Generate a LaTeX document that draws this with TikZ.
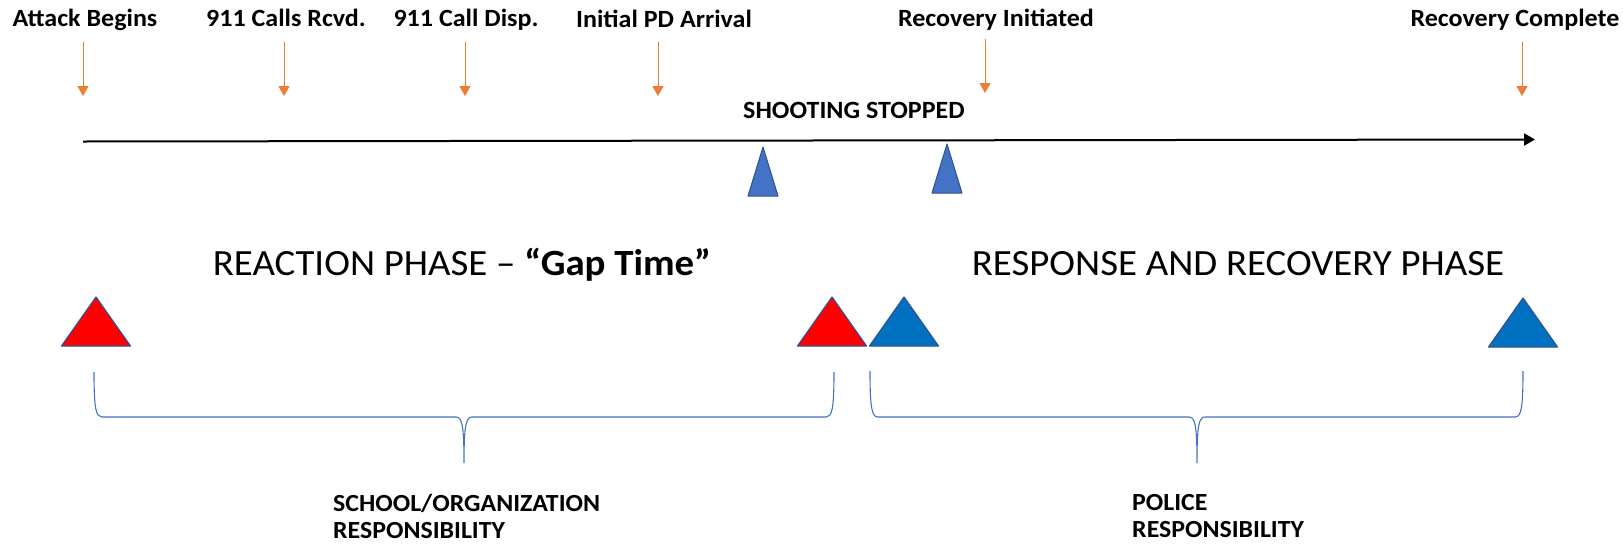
\documentclass[tikz,border=0pt]{standalone}
\usepackage{fontspec}
\setmainfont{Carlito}
\newfontfamily\labelfont{Carlito}[FakeStretch=1.05]
\usetikzlibrary{arrows.meta, positioning}

\definecolor{tickorange}{HTML}{ED7D31}
\definecolor{stopblue}{HTML}{4472C4}
\definecolor{edgeblue}{HTML}{2F528F}
\definecolor{phaseblue}{HTML}{0070C0}
\definecolor{phasered}{HTML}{FF0000}

\begin{document}
\begin{tikzpicture}[x=1pt, y=-1pt,
    tick/.style={draw=tickorange, line width=1pt, -{Triangle[length=10pt,width=11pt]}},
    timeline/.style={draw=black, line width=2pt, -{Triangle[length=11pt,width=12pt]}},
    event/.style={inner sep=0pt, anchor=base, font=\labelfont\bfseries\fontsize{24.8}{28}\selectfont},
    phase/.style={inner sep=0pt, anchor=base, font=\labelfont\fontsize{37}{44}\selectfont},
    duty/.style={inner sep=0pt, anchor=base west, font=\labelfont\bfseries\fontsize{24.6}{28}\selectfont},
    bigtri/.style={draw=edgeblue, line width=1.2pt, line join=round},
    smalltri/.style={fill=stopblue, draw=edgeblue, line width=1pt, line join=round},
    curly/.style={draw=stopblue, line width=1.1pt}]

\useasboundingbox (0,0) rectangle (1623,547);

% event labels
\node[event] (BEGIN)    at (85,26)   {Attack Begins};
\node[event] (RCVD)     at (286,26)  {911 Calls Rcvd.};
\node[event] (DISP)     at (466,26)  {911 Call Disp.};
\node[event] (ARRIVAL)  at (664,27)  {Initial PD Arrival};
\node[event] (RECINIT)  at (996,26)  {Recovery Initiated};
\node[event] (RECDONE)  at (1515,26) {Recovery Complete};
\node[event] (STOPPED)  at (854,118) {SHOOTING STOPPED};

% tick arrows
\coordinate (BEGIN top)   at (83,42);   \coordinate (BEGIN tip)   at (83,96);
\coordinate (RCVD top)    at (284,42);  \coordinate (RCVD tip)    at (284,96);
\coordinate (DISP top)    at (465,42);  \coordinate (DISP tip)    at (465,96);
\coordinate (ARRIVAL top) at (658,42);  \coordinate (ARRIVAL tip) at (658,96);
\coordinate (RECINIT top) at (985,39);  \coordinate (RECINIT tip) at (985,93);
\coordinate (RECDONE top) at (1522,42); \coordinate (RECDONE tip) at (1522,96);

\foreach \ev in {BEGIN, RCVD, DISP, ARRIVAL, RECINIT, RECDONE}
  \draw[tick] (\ev\space top) -- (\ev\space tip);

% time line
\coordinate (TSTART) at (83,141.5);
\coordinate (TEND)   at (1535,139.5);
\draw[timeline] (TSTART) -- (TEND);

% shooting stopped markers
\filldraw[smalltri] (763,147) -- (778,196) -- (748,196) -- cycle;
\filldraw[smalltri] (947,144) -- (962,193) -- (932,193) -- cycle;

% phases
\node[phase] (REACTION) at (462,275)  {REACTION PHASE – \textbf{“Gap Time”}};
\node[phase] (RESPONSE) at (1238,275) {RESPONSE AND RECOVERY PHASE};

\foreach \x/\y/\c in {96/297/phasered, 832/297/phasered, 904/297/phaseblue, 1523/298/phaseblue}
  \filldraw[bigtri, fill=\c] (\x,\y) -- (\x+34.5,\y+49) -- (\x-34.5,\y+49) -- cycle;

% braces
\draw[curly] (94,372) .. controls (94,409) and (96,417) .. (102,417) -- (456,417)
  .. controls (462,417) and (464,425) .. (464,463)
  .. controls (464,425) and (466,417) .. (472,417) -- (826,417)
  .. controls (832,417) and (834,409) .. (834,372);
\draw[curly] (870,371) .. controls (870,409) and (872,417) .. (878,417) -- (1189,417)
  .. controls (1195,417) and (1197,425) .. (1197,463)
  .. controls (1197,425) and (1199,417) .. (1205,417) -- (1515,417)
  .. controls (1521,417) and (1523,409) .. (1523,371);

% responsibility labels
\node[duty] (SCHOOL)     at (333,511)  {SCHOOL/ORGANIZATION};
\node[duty] (SCHOOLRESP) at ([yshift=-27pt]SCHOOL.base west) {RESPONSIBILITY};
\node[duty] (POLICE)     at (1132,510) {POLICE};
\node[duty] (POLICERESP) at ([yshift=-27pt]POLICE.base west) {RESPONSIBILITY};

\end{tikzpicture}
\end{document}
